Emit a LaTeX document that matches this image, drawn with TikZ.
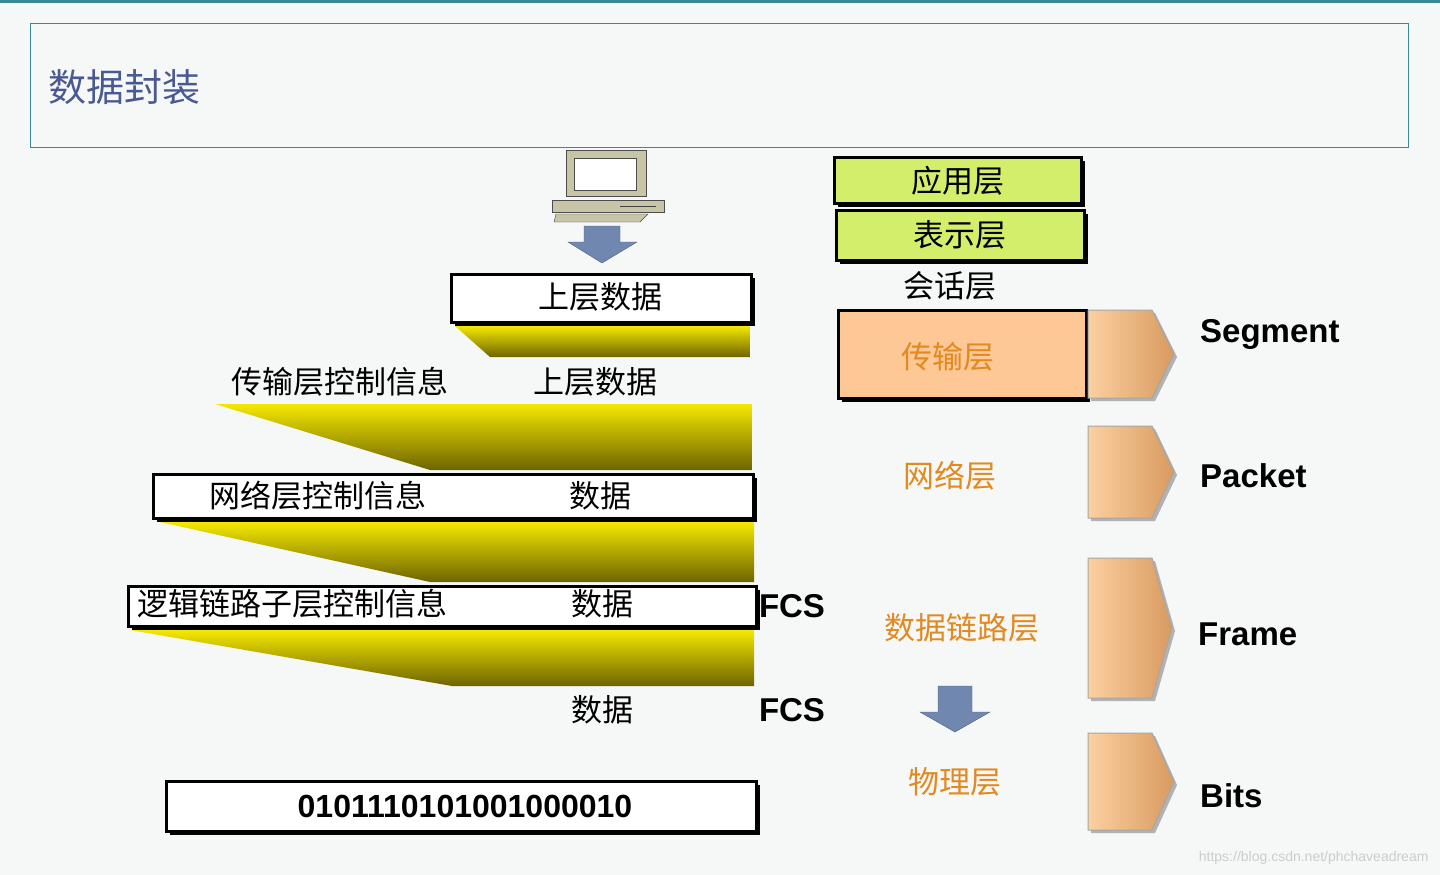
\documentclass[tikz,border=0pt]{standalone}
\usepackage{fontspec}
\setmainfont{Liberation Sans}
\newfontfamily\cjk{Noto Sans CJK SC}
\usetikzlibrary{shadows}
\definecolor{bg}{HTML}{F6F7F7}
\definecolor{teal}{HTML}{3A8A94}
\definecolor{titlec}{HTML}{4A5A90}
\definecolor{grn}{HTML}{D2EE6A}
\definecolor{org}{HTML}{FDC896}
\definecolor{orgt}{HTML}{E08A20}
\definecolor{olive}{HTML}{6E6400}
\definecolor{ylw}{HTML}{F4E800}
\definecolor{arr}{HTML}{7088B0}
\definecolor{pc}{HTML}{C8C4A8}
\definecolor{chl}{HTML}{FCD0A0}
\definecolor{chr}{HTML}{D89A60}
\tikzset{
 x=1pt,y=-1pt,
 box/.style={draw=black,line width=2.5pt,fill=white,drop shadow={shadow xshift=4pt,shadow yshift=-4pt,fill=black,opacity=1}},
 funnel/.style={top color=ylw,bottom color=olive},
 cj/.style={font=\cjk\fontsize{31}{33}\selectfont,inner sep=0pt},
 en/.style={font=\bfseries\fontsize{33}{35}\selectfont,inner sep=0pt},
 chev/.style={left color=chl,right color=chr,draw=gray!70,line width=1pt,drop shadow={shadow xshift=3pt,shadow yshift=-3pt,fill=gray!60,opacity=1}},
}
\begin{document}
\begin{tikzpicture}
\useasboundingbox (0,0) rectangle (1440,875);
\fill[bg] (0,0) rectangle (1440,875);
\fill[teal] (0,0) rectangle (1440,3);
\node[draw=teal,line width=1pt,minimum width=1378pt,minimum height=124pt,anchor=north west] (title) at (30,23) {};
\node[anchor=west,text=titlec,font=\cjk\fontsize{38}{40}\selectfont,inner sep=0pt] (tt) at (48,87) {数据封装};
% computer
\draw[fill=pc,draw=gray!60!black] (566,150) -- (646,150) -- (646,196) -- (566,196) -- cycle;
\draw[fill=white,draw=gray!60!black] (574,158) rectangle (636,190);
\draw[fill=pc,draw=gray!60!black] (552,200) -- (664,200) -- (664,212) -- (552,212) -- cycle;
\draw[fill=pc,draw=gray!60!black] (556,214) -- (648,214) -- (640,222) -- (554,222) -- cycle;
\draw[gray!50!black] (620,206) -- (656,206);
\draw[fill=arr,draw=arr!70!black] (584,226) -- (620,226) -- (620,242) -- (637,242) -- (602,263) -- (568,242) -- (584,242) -- cycle;
% left stack
\node[box,minimum width=300pt,minimum height=48pt,anchor=north west] (b1) at (450,273) {};
\node[cj] (t1) at (600,297) {上层数据};
\shade[funnel] (455,326) -- (750,326) -- (750,357) -- (490,357) -- cycle;
\node[cj] (t2) at (340,382) {传输层控制信息};
\node[cj] (t3) at (595,382) {上层数据};
\shade[funnel] (215,404) -- (752,404) -- (752,470) -- (430,470) -- cycle;
\node[box,minimum width=600pt,minimum height=44pt,anchor=north west] (b2) at (152,473) {};
\node[cj] (t4) at (318,496) {网络层控制信息};
\node[cj] (t5) at (600,496) {数据};
\shade[funnel] (160,522) -- (754,522) -- (754,582) -- (430,582) -- cycle;
\node[box,minimum width=628pt,minimum height=40pt,anchor=north west] (b3) at (127,585) {};
\node[cj] (t6) at (292,604) {逻辑链路子层控制信息};
\node[cj] (t7) at (602,604) {数据};
\node[en] (f1) at (792,606) {FCS};
\shade[funnel] (130,630) -- (754,630) -- (754,686) -- (452,686) -- cycle;
\node[cj] (t8) at (602,710) {数据};
\node[en] (f2) at (792,710) {FCS};
\node[box,minimum width=590pt,minimum height=50pt,anchor=north west] (b4) at (165,780) {};
\node[en,font=\bfseries\fontsize{32}{34}\selectfont] (bits) at (465,806) {0101110101001000010};
% right stack
\node[box,fill=grn,minimum width=247pt,minimum height=46pt,anchor=north west] (l7) at (833,156) {};
\node[cj] at (l7) {应用层};
\node[box,fill=grn,minimum width=248pt,minimum height=50pt,anchor=north west] (l6) at (835,209) {};
\node[cj] at (l6) {表示层};
\node[cj] (l5) at (950,286) {会话层};
\node[box,fill=org,minimum width=248pt,minimum height=88pt,anchor=north west] (l4) at (837,309) {};
\node[cj,text=orgt] at (948,357) {传输层};
\node[cj,text=orgt] (l3) at (950,476) {网络层};
\node[cj,text=orgt] (l2) at (962,628) {数据链路层};
\draw[fill=arr,draw=arr!70!black] (938,686) -- (972,686) -- (972,712) -- (990,712) -- (955,732) -- (920,712) -- (938,712) -- cycle;
\node[cj,text=orgt] (l1) at (955,782) {物理层};
\draw[chev] (1088,310) -- (1152,310) -- (1174,354) -- (1152,398) -- (1088,398) -- cycle;
\draw[chev] (1088,426) -- (1152,426) -- (1174,472) -- (1152,518) -- (1088,518) -- cycle;
\draw[chev] (1088,558) -- (1152,558) -- (1172,628) -- (1152,698) -- (1088,698) -- cycle;
\draw[chev] (1088,733) -- (1152,733) -- (1174,782) -- (1152,830) -- (1088,830) -- cycle;
\node[en,anchor=west] (s1) at (1200,334) {Segment};
\node[en,anchor=west] (s2) at (1200,476) {Packet};
\node[en,anchor=west] (s3) at (1198,634) {Frame};
\node[en,anchor=west] (s4) at (1200,796) {Bits};
\node[anchor=east,text=gray!40,font=\fontsize{14}{16}\selectfont] (wm) at (1432,858) {https://blog.csdn.net/phchaveadream};
\end{tikzpicture}
\end{document}
